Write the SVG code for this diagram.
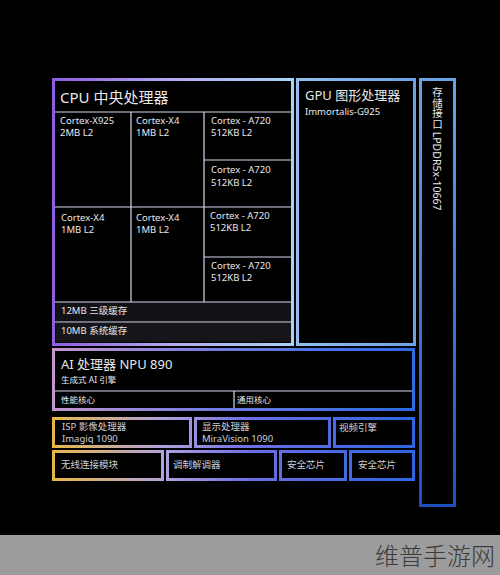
<svg xmlns="http://www.w3.org/2000/svg" width="500" height="575" viewBox="0 0 500 575">
<style>
.t{font-family:"Noto Sans","Noto Sans CJK SC",sans-serif;fill:#e8e8ec}
.h1{font-size:15px}
.h2{font-size:13px}
.m{font-size:9.5px}
.sm{font-size:8.5px}
.dim{fill:#cfd0d8}
.ln{stroke:#d4d8ee;stroke-width:1.2;fill:none}
.box{fill:#000;stroke-width:3}
</style>
<defs>
<linearGradient id="gCpu" gradientUnits="userSpaceOnUse" x1="52" y1="0" x2="294" y2="0">
<stop offset="0" stop-color="#8d5ce0"/><stop offset="0.5" stop-color="#b4aaf0"/><stop offset="1" stop-color="#a6d4f6"/>
</linearGradient>
<linearGradient id="gGpu" gradientUnits="userSpaceOnUse" x1="296" y1="0" x2="416" y2="0">
<stop offset="0" stop-color="#92c0ee"/><stop offset="1" stop-color="#6aa2e4"/>
</linearGradient>
<linearGradient id="gMem" gradientUnits="userSpaceOnUse" x1="0" y1="79" x2="0" y2="506">
<stop offset="0" stop-color="#6aa4e6"/><stop offset="1" stop-color="#1f4fbf"/>
</linearGradient>
<linearGradient id="gNpu" gradientUnits="userSpaceOnUse" x1="52" y1="0" x2="416" y2="0">
<stop offset="0" stop-color="#c496cc"/><stop offset="0.4" stop-color="#7a7ee2"/><stop offset="1" stop-color="#2a6ae2"/>
</linearGradient>
<linearGradient id="gRow" gradientUnits="userSpaceOnUse" x1="52" y1="0" x2="416" y2="0">
<stop offset="0" stop-color="#e8b844"/><stop offset="0.3" stop-color="#b2a2dc"/><stop offset="0.55" stop-color="#6c6ee2"/><stop offset="1" stop-color="#2c66e0"/>
</linearGradient>
</defs>
<rect x="0" y="0" width="500" height="535" fill="#000"/>
<rect x="0" y="535" width="500" height="40" fill="#9c9c9c"/>

<g id="cpu">
<rect class="box" x="53.5" y="79.5" width="239" height="265" stroke="url(#gCpu)"/>
<rect x="56" y="302" width="235" height="20" fill="#121216"/>
<rect x="56" y="323" width="235" height="19" fill="#16161a"/>
<text class="t h1" x="60" y="103">CPU 中央处理器</text>
</g>
<g id="core-x925"><text class="t m" x="60" y="124">Cortex-X925</text><text class="t m" x="60" y="136">2MB L2</text></g>
<g id="core-x4a"><text class="t m" x="136" y="124">Cortex-X4</text><text class="t m" x="136" y="136">1MB L2</text></g>
<g id="core-a720a"><text class="t m" x="211" y="124">Cortex - A720</text><text class="t m" x="211" y="136">512KB L2</text></g>
<g id="core-a720b"><text class="t m" x="211" y="173">Cortex - A720</text><text class="t m" x="211" y="186">512KB L2</text></g>
<g id="core-x4b"><text class="t m" x="61" y="221">Cortex-X4</text><text class="t m" x="61" y="233">1MB L2</text></g>
<g id="core-x4c"><text class="t m" x="136" y="221">Cortex-X4</text><text class="t m" x="136" y="233">1MB L2</text></g>
<g id="core-a720c"><text class="t m" x="210" y="219">Cortex - A720</text><text class="t m" x="210" y="231">512KB L2</text></g>
<g id="core-a720d"><text class="t m" x="211" y="269">Cortex - A720</text><text class="t m" x="211" y="281">512KB L2</text></g>
<g id="l3"><text class="t m" x="61" y="314">12MB 三级缓存</text></g>
<g id="slc"><text class="t m" x="61" y="334">10MB 系统缓存</text></g>

<g id="gpu">
<rect class="box" x="297.5" y="79.5" width="117" height="265" stroke="url(#gGpu)"/>
<text class="t h2" x="305" y="100">GPU 图形处理器</text>
<text class="t m" x="305" y="115">Immortalis-G925</text>
</g>

<g id="memory">
<rect class="box" x="420.5" y="79.5" width="34" height="426" stroke="url(#gMem)"/>
<text class="t" font-size="10.5" x="437" y="87" style="writing-mode:vertical-rl">存储接口 LPDDR5x-10667</text>
</g>

<g id="npu">
<rect class="box" x="53.5" y="349.5" width="360" height="60" stroke="url(#gNpu)"/>
<text class="t h2" x="61" y="369">AI 处理器 NPU 890</text>
<text class="t sm" x="61" y="383">生成式 AI 引擎</text>
<text class="t sm" x="61" y="403">性能核心</text>
<text class="t sm" x="237" y="403">通用核心</text>
</g>

<g id="isp">
<rect class="box" x="53.5" y="418.5" width="137" height="28" stroke="url(#gRow)"/>
<text class="t m dim" x="62" y="430">ISP 影像处理器</text>
<text class="t m dim" x="62" y="442">Imagiq 1090</text>
</g>
<g id="display">
<rect class="box" x="195.5" y="418.5" width="134" height="28" stroke="url(#gRow)"/>
<text class="t m dim" x="202" y="430">显示处理器</text>
<text class="t m dim" x="202" y="442">MiraVision 1090</text>
</g>
<g id="video">
<rect class="box" x="334.5" y="418.5" width="79" height="28" stroke="url(#gRow)"/>
<text class="t m dim" x="339" y="431">视频引擎</text>
</g>
<g id="wireless">
<rect class="box" x="53.5" y="451.5" width="109" height="28" stroke="url(#gRow)"/>
<text class="t m dim" x="61" y="468">无线连接模块</text>
</g>
<g id="modem">
<rect class="box" x="167.5" y="451.5" width="108" height="28" stroke="url(#gRow)"/>
<text class="t m dim" x="173" y="468">调制解调器</text>
</g>
<g id="secure1">
<rect class="box" x="280.5" y="451.5" width="65" height="28" stroke="url(#gRow)"/>
<text class="t m dim" x="287" y="468">安全芯片</text>
</g>
<g id="secure2">
<rect class="box" x="350.5" y="451.5" width="63" height="28" stroke="url(#gRow)"/>
<text class="t m dim" x="358" y="468">安全芯片</text>
</g>

<g id="connectors">
<line class="ln" x1="55" y1="112" x2="291" y2="112"/>
<line class="ln" x1="131" y1="112" x2="131" y2="302"/>
<line class="ln" x1="204" y1="112" x2="204" y2="302"/>
<line class="ln" x1="55" y1="207" x2="291" y2="207"/>
<line class="ln" x1="204" y1="160" x2="291" y2="160"/>
<line class="ln" x1="204" y1="257" x2="291" y2="257"/>
<line class="ln" x1="55" y1="302" x2="291" y2="302"/>
<line class="ln" x1="55" y1="322" x2="291" y2="322" stroke-width="2"/>
<line class="ln" x1="55" y1="391" x2="412" y2="391" stroke="#b8bcd8"/>
<line class="ln" x1="234" y1="391" x2="234" y2="408" stroke="#b8bcd8"/>
</g>

<text x="375" y="565" font-family="Noto Sans CJK SC, sans-serif" font-size="24" font-weight="300" fill="#3a3a3a">维普手游网</text>
</svg>
